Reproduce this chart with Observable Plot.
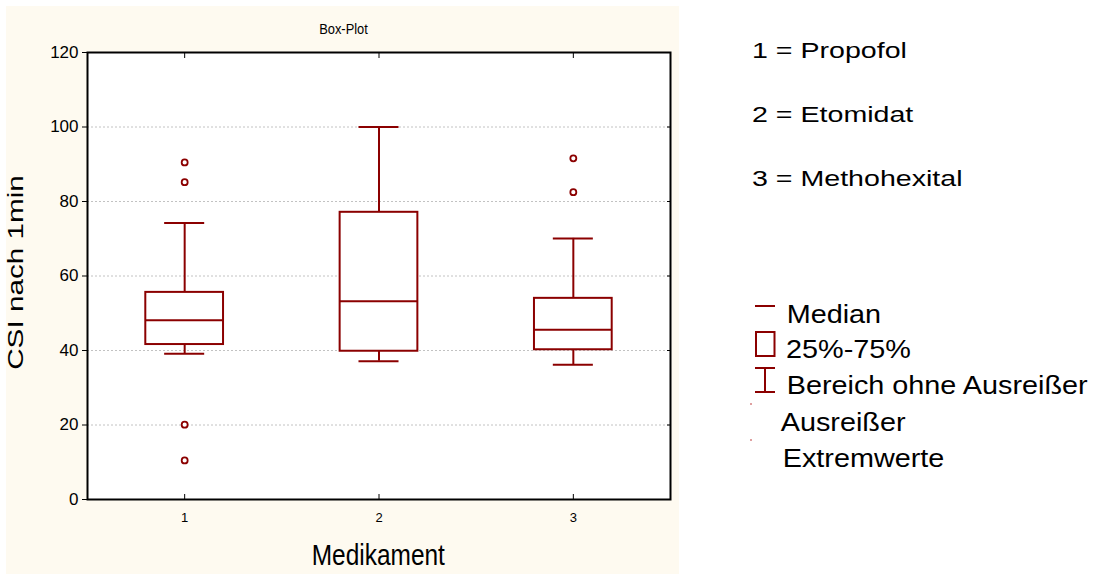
<!DOCTYPE html>
<html><head><meta charset="utf-8">
<script src="https://cdn.jsdelivr.net/npm/d3@7"></script>
<script src="https://cdn.jsdelivr.net/npm/@observablehq/plot@0.6"></script>
<style>
html,body{margin:0;padding:0;background:#fff;}
#wrap{position:relative;width:1097px;height:574px;overflow:hidden;font-family:"Liberation Sans",Arial,sans-serif;}
#panel{position:absolute;left:6px;top:6px;width:673px;height:568px;background:#fefaf0;}
#overlay{position:absolute;left:0;top:0;pointer-events:none;}
</style></head><body>
<div id="wrap"><div id="panel"></div><svg id="overlay" width="1097" height="574"></svg></div>
<script>
// ---- data ----
const categories = [1, 2, 3];
const drugNames = ["Propofol", "Etomidat", "Methohexital"];
const q1Values = [41.6, 39.8, 40.2];
const medianValues = [48.1, 53.2, 45.6];
const q3Values = [55.6, 77.1, 54.0];
const whiskerLow = [39.1, 37.1, 36.2];
const whiskerHigh = [74.2, 100, 70.1];
const outlierGroup = [1, 1, 1, 1, 3, 3];
const outlierValue = [90.5, 85.2, 20.1, 10.5, 91.6, 82.5];
const yTicks = [0, 20, 40, 60, 80, 100, 120];
const gridValues = [20, 40, 60, 80, 100];
const title = "Box-Plot";
const xLabel = "Medikament";
const yLabel = "CSI nach 1min";
const legendNames = categories.map((c, i) => `${c} = ${drugNames[i]}`);
const legendKeys = ["Median", "25%-75%", "Bereich ohne Ausreißer", "Ausreißer", "Extremwerte"];

const RED = "#8b0000";
const FONT = "Liberation Sans, Arial, sans-serif";
const boxHalf = 0.2, capHalf = 0.103;

const boxes = categories.map((c, i) => ({
  medikament: c, q1: q1Values[i], median: medianValues[i], q3: q3Values[i],
  lo: whiskerLow[i], hi: whiskerHigh[i]
}));
const outliers = outlierGroup.map((g, i) => ({medikament: g, value: outlierValue[i]}));

const chart = Plot.plot({
  width: 673, height: 568,
  marginLeft: 81, marginTop: 46, marginRight: 9, marginBottom: 75,
  style: {background: "transparent", fontFamily: FONT, overflow: "visible", color: "#000"},
  x: {type: "linear", domain: [0.5, 3.5], axis: null},
  y: {domain: [0, 120], axis: null},
  marks: [
    Plot.frame({fill: "white", stroke: null}),
    Plot.ruleY(gridValues, {stroke: "#c2c2c2", strokeDasharray: "2,2", strokeWidth: 1}),
    Plot.ruleX(boxes, {x: "medikament", y1: "lo", y2: "hi", stroke: RED, strokeWidth: 2}),
    Plot.ruleY(boxes, {y: "hi", x1: d => d.medikament - capHalf, x2: d => d.medikament + capHalf, stroke: RED, strokeWidth: 2}),
    Plot.ruleY(boxes, {y: "lo", x1: d => d.medikament - capHalf, x2: d => d.medikament + capHalf, stroke: RED, strokeWidth: 2}),
    Plot.rect(boxes, {x1: d => d.medikament - boxHalf, x2: d => d.medikament + boxHalf, y1: "q1", y2: "q3", fill: "white", stroke: RED, strokeWidth: 2}),
    Plot.ruleY(boxes, {y: "median", x1: d => d.medikament - boxHalf, x2: d => d.medikament + boxHalf, stroke: RED, strokeWidth: 2}),
    Plot.dot(outliers, {x: "medikament", y: "value", r: 3, stroke: RED, strokeWidth: 1.8, fill: "white"}),
    Plot.axisY({anchor: "left", ticks: yTicks, tickSize: 5, tickPadding: 4, fontSize: 17, label: null}),
    Plot.axisY({anchor: "right", ticks: yTicks, tickSize: -4, tickFormat: () => "", label: null}),
    Plot.axisX({anchor: "bottom", ticks: categories, tickSize: -5, tickFormat: () => "", label: null}),
    Plot.axisX({anchor: "bottom", ticks: categories, tickSize: 0, tickPadding: 13, fontSize: 13, tickFormat: d3.format("d"), label: null}),
    Plot.axisX({anchor: "top", ticks: categories, tickSize: -5, tickFormat: () => "", label: null}),
    Plot.frame({stroke: "black", strokeWidth: 2})
  ]
});
document.getElementById("panel").appendChild(chart);

// ---- overlay texts and legend ----
const ov = d3.select("#overlay");
function txt(str, x, y, size, sx, anchor, rot) {
  const tr = `translate(${x},${y})` + (rot ? ` rotate(${rot})` : "") + ` scale(${sx},1)`;
  const t = ov.append("text").attr("transform", tr).attr("font-size", size)
    .attr("font-family", FONT).attr("fill", "#000").text(str);
  if (anchor) t.attr("text-anchor", anchor);
  return t;
}
txt(title, 343.5, 34, 15, 0.86, "middle");
txt(xLabel, 378.3, 565, 30, 0.815, "middle");
txt(yLabel, 23, 272.5, 22, 1.35, "middle", -90);

const upperY = [58, 122.3, 185.7];
legendNames.forEach((s, i) => txt(s, 752, upperY[i], 22, 1.3));

const keyPos = [[786.7, 323.3], [786, 358.3], [786.7, 394], [780.7, 430.7], [782.7, 466.7]];
legendKeys.forEach((s, i) => txt(s, keyPos[i][0], keyPos[i][1], 25.5, 1.13));

// legend symbols
const sym = ov.append("g").attr("stroke", RED).attr("stroke-width", 2).attr("fill", "none");
sym.append("line").attr("x1", 755).attr("x2", 775).attr("y1", 306).attr("y2", 306);
sym.append("rect").attr("x", 756).attr("y", 332).attr("width", 18.5).attr("height", 24);
sym.append("line").attr("x1", 755).attr("x2", 775).attr("y1", 368).attr("y2", 368);
sym.append("line").attr("x1", 755).attr("x2", 775).attr("y1", 392).attr("y2", 392);
sym.append("line").attr("x1", 765).attr("x2", 765).attr("y1", 368).attr("y2", 392);
ov.append("rect").attr("x", 750).attr("y", 403).attr("width", 2).attr("height", 2).attr("fill", "#dfa0a0");
ov.append("rect").attr("x", 750).attr("y", 439).attr("width", 2).attr("height", 2).attr("fill", "#dfa0a0");
</script>
</body></html>
